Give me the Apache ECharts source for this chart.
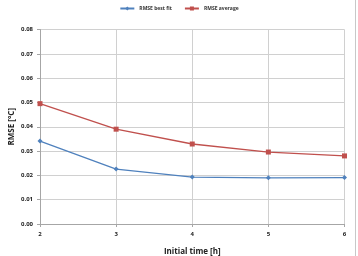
<!DOCTYPE html>
<html>
<head>
<meta charset="utf-8">
<script src="https://cdn.jsdelivr.net/npm/echarts@6/dist/echarts.min.js"></script>
<style>
  html, body { margin: 0; padding: 0; background: #fff; }
  #chart { width: 358px; height: 256px; }
</style>
</head>
<body>
<div id="chart"></div>
<script>
var chart = echarts.init(document.getElementById('chart'));

// values
var initialTime = ['2', '3', '4', '5', '6'];
var rmseBestFit = [0.0341, 0.0226, 0.0193, 0.0190, 0.0191];
var rmseAverage = [0.0495, 0.0390, 0.0329, 0.0296, 0.0280];

var font = 'Open Sans';

var option = {
  animation: false,
  textStyle: { fontFamily: font },
  legend: {
    top: 1,
    left: 'center',
    itemWidth: 14,
    itemHeight: 5,
    itemGap: 12,
    textStyle: { fontSize: 5, fontWeight: 'bold', color: '#333' },
    data: ['RMSE best fit', 'RMSE average']
  },
  grid: { left: 40, right: 13.5, top: 29.5, bottom: 32, outerBoundsMode: 'none' },
  xAxis: {
    type: 'category',
    data: initialTime,
    boundaryGap: false,
    name: 'Initial time [h]',
    nameLocation: 'middle',
    nameGap: 24,
    nameMoveOverlap: false,
    nameTextStyle: { fontSize: 8, fontWeight: 'bold', color: '#222' },
    axisLine: { lineStyle: { color: '#a6a6a6', width: 1 } },
    axisTick: { show: true, length: 3, alignWithLabel: true, lineStyle: { color: '#a6a6a6' } },
    axisLabel: { fontSize: 6, fontWeight: 'bold', color: '#222', margin: 7 },
    splitLine: { show: true, lineStyle: { color: '#d0d0d0', width: 1 } }
  },
  yAxis: {
    type: 'value',
    min: 0,
    max: 0.08,
    interval: 0.01,
    name: 'RMSE [°C]',
    nameLocation: 'middle',
    nameGap: 24,
    nameMoveOverlap: false,
    nameTextStyle: { fontSize: 8, fontWeight: 'bold', color: '#222' },
    axisLine: { show: true, lineStyle: { color: '#a6a6a6', width: 1 } },
    axisTick: { show: true, length: 3, lineStyle: { color: '#a6a6a6' } },
    axisLabel: {
      fontSize: 6, fontWeight: 'bold', color: '#222', margin: 7,
      formatter: function (v) { return v.toFixed(2); }
    },
    splitLine: { show: true, lineStyle: { color: '#d0d0d0', width: 1 } }
  },
  graphic: [{
    type: 'line',
    shape: { x1: 355.5, y1: 0, x2: 355.5, y2: 256 },
    style: { stroke: '#c8c8c8', lineWidth: 1 }
  }],
  series: [{
    name: 'RMSE best fit',
    type: 'line',
    data: rmseBestFit,
    symbol: 'diamond',
    symbolSize: 5,
    color: '#4f81bd',
    lineStyle: { width: 1.3 },
    itemStyle: { color: '#4f81bd' }
  }, {
    name: 'RMSE average',
    type: 'line',
    data: rmseAverage,
    symbol: 'rect',
    symbolSize: 5,
    color: '#c0504d',
    lineStyle: { width: 1.3 },
    itemStyle: { color: '#c0504d' }
  }]
};

chart.setOption(option);
</script>
</body>
</html>
